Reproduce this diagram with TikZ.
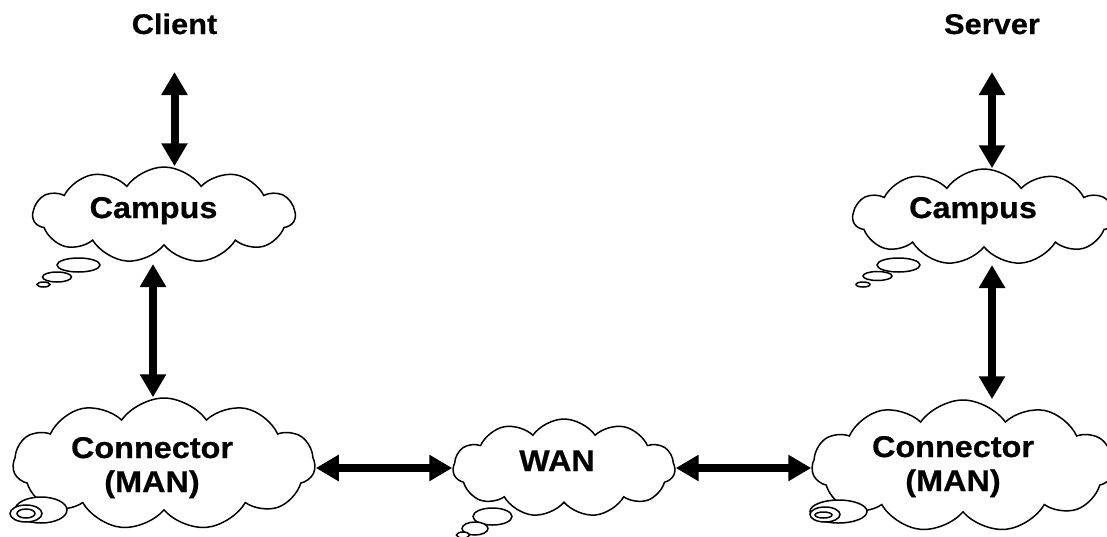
\documentclass[tikz,border=0pt]{standalone}
\usepackage{fontspec}
\setmainfont{Liberation Sans}[FakeStretch=1.08,BoldFeatures={FakeBold=0.5}]
\usetikzlibrary{shapes.symbols,arrows.meta,calc}
\tikzset{
  lbl/.style={font=\fontsize{28.5}{34}\selectfont\bfseries, inner sep=0pt, anchor=base, align=center},
  inlbl/.style={lbl, font=\fontsize{30}{34}\selectfont\bfseries},
  cloudbox/.style={cloud, cloud puffs=11, cloud puff arc=110, cloud ignores aspect, draw=black, line width=1.5pt, fill=white, inner sep=0pt},
  bubble/.style={draw=black, line width=1.5pt, fill=white},
  link/.style={line width=8pt, {Triangle[width=25pt,length=23pt]}-{Triangle[width=25pt,length=23pt]}},
}
\begin{document}
\begin{tikzpicture}[x=1pt,y=-1pt]
\useasboundingbox (0,0) rectangle (1107,536);
\clip (0,0) rectangle (1107,536);
% labels
\node[lbl] (client) at (174.5,34) {Client};
\node[lbl] (server) at (992,34) {Server};
% clouds
\node[cloudbox, minimum width=262pt, minimum height=96pt] (campusL) at (164,215) {};
\node[cloudbox, minimum width=262pt, minimum height=96pt] (campusR) at (984,217) {};
\node[cloudbox, minimum width=302pt, minimum height=132pt] (connL) at (164,464) {};
\node[cloudbox, minimum width=302pt, minimum height=132pt] (connR) at (963,466) {};
\node[cloudbox, minimum width=222pt, minimum height=98pt] (wan) at (564,468) {};
% bubbles
\draw[bubble] (78.5,265) ellipse [x radius=21.5, y radius=7];
\draw[bubble] (57,277) ellipse [x radius=14.5, y radius=5];
\draw[bubble] (43.5,284.5) ellipse [x radius=6.5, y radius=2.5];
\draw[bubble] (898.5,265) ellipse [x radius=21.5, y radius=7];
\draw[bubble] (877.5,276) ellipse [x radius=14.5, y radius=4.5];
\draw[bubble] (863,284.5) ellipse [x radius=7, y radius=2.5];
\draw[bubble] (41,510) ellipse [x radius=26, y radius=13];
\draw[bubble] (26,513.5) ellipse [x radius=16, y radius=8.5];
\draw[bubble] (26,513.5) ellipse [x radius=9, y radius=4.5];
\draw[bubble] (838.5,511.5) ellipse [x radius=28.5, y radius=11.5];
\draw[bubble] (825,514.5) ellipse [x radius=15, y radius=7.5];
\draw[bubble] (823.5,515) ellipse [x radius=8.5, y radius=3];
\draw[bubble] (492.5,516.5) ellipse [x radius=19.5, y radius=8.5];
\draw[bubble] (475,528.5) ellipse [x radius=13, y radius=6.5];
\draw[bubble] (463,535) ellipse [x radius=6.5, y radius=3];
% cloud texts
\node[inlbl] (tCampusL) at (153.5,218) {Campus};
\node[inlbl] (tCampusR) at (973,218) {Campus};
\node[inlbl] (tConnL) at (152,492) {Connector\\(MAN)};
\node[inlbl] (tConnR) at (953,491) {Connector\\(MAN)};
\node[inlbl] (tWan) at (557,471) {WAN};
% connectors
\draw[link] ($(client.base)+(0,38)$) -- (campusL.north -| client.base);
\draw[link] ($(campusL.center)+(-11,49)$) -- ($(connL.north)+(-11,0)$);
\draw[link] ($(server.base)+(0,38)$) -- (campusR.north -| server.base);
\draw[link] ($(campusR.center -| server.base)+(0,48)$) -- (connR.north -| server.base);
\draw[link] (connL.east |- wan.west) -- (wan.west);
\draw[link] (wan.east) -- (connR.west |- wan.east);
\end{tikzpicture}
\end{document}
